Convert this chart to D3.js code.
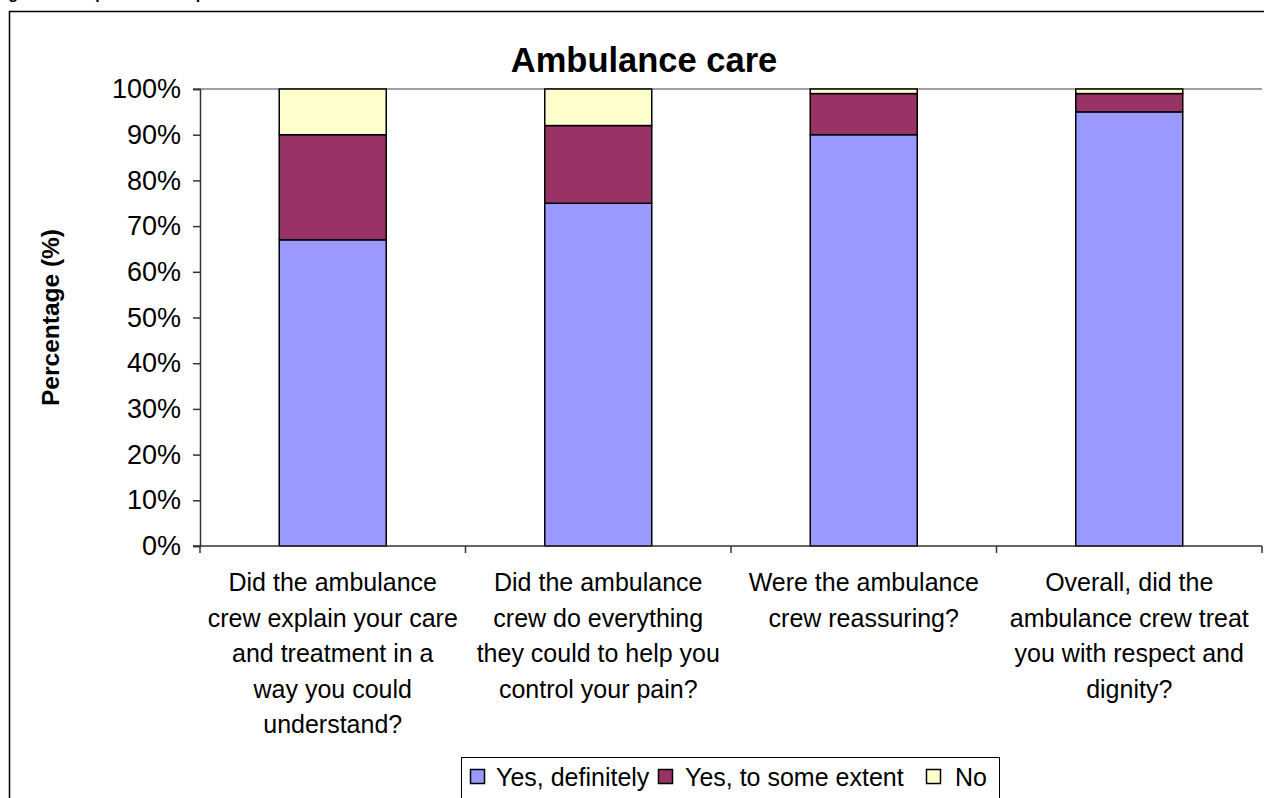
<!DOCTYPE html>
<html>
<head>
<meta charset="utf-8">
<script src="https://cdn.jsdelivr.net/npm/d3@7"></script>
<style>
  html, body { margin: 0; padding: 0; background: #fff; }
  svg { display: block; font-family: Arial, "Liberation Sans", sans-serif; }
</style>
</head>
<body>
<svg id="chart" width="1264" height="798"></svg>
<script>
// Survey questions (label lines as wrapped under each bar)
const categories = [
  ["Did the ambulance", "crew explain your care", "and treatment in a", "way you could", "understand?"],
  ["Did the ambulance", "crew do everything", "they could to help you", "control your pain?"],
  ["Were the ambulance", "crew reassuring?"],
  ["Overall, did the", "ambulance crew treat", "you with respect and", "dignity?"]
];
const seriesNames = ["Yes, definitely", "Yes, to some extent", "No"];
const yesDefinitely = [67, 75, 90, 95];
const yesSomeExtent = [23, 17, 9, 4];
const no = [10, 8, 1, 1];
const yTicks = [0, 10, 20, 30, 40, 50, 60, 70, 80, 90, 100];
const colors = ["#9999FF", "#993366", "#FFFFCC"];

const svg = d3.select("#chart");

// Caption line above the chart frame (only its descenders fall inside the page)
svg.append("text")
  .attr("x", -6).attr("y", -1.5)
  .attr("font-size", 16).attr("font-weight", "bold")
  .text("Figure 5: Responses from patients");

// Outer chart frame
svg.append("rect")
  .attr("x", 9.5).attr("y", 11.5)
  .attr("width", 1290).attr("height", 820)
  .attr("fill", "#fff").attr("stroke", "#000").attr("stroke-width", 1.5);

const plot = { left: 200, right: 1262, top: 89, bottom: 546 };

const rows = categories.map((c, i) => ({
  key: i,
  [seriesNames[0]]: yesDefinitely[i],
  [seriesNames[1]]: yesSomeExtent[i],
  [seriesNames[2]]: no[i]
}));
const stacked = d3.stack().keys(seriesNames)(rows);

const x = d3.scaleBand()
  .domain(categories.map((c, i) => i))
  .range([plot.left, plot.right])
  .paddingInner(0.597).paddingOuter(0.2985);
const xOuter = d3.scaleBand()
  .domain(categories.map((c, i) => i))
  .range([plot.left, plot.right]);
const y = d3.scaleLinear().domain([0, 100]).range([plot.bottom, plot.top]);

// Title
svg.append("text")
  .attr("x", 644).attr("y", 72)
  .attr("text-anchor", "middle")
  .attr("font-size", 34.5).attr("font-weight", "bold")
  .text("Ambulance care");

// Top boundary line at 100%
svg.append("line")
  .attr("x1", plot.left - 7).attr("x2", plot.right)
  .attr("y1", y(100)).attr("y2", y(100))
  .attr("stroke", "#808080").attr("stroke-width", 1.5);

// Stacked bars
svg.append("g").selectAll("g")
  .data(stacked)
  .join("g")
  .attr("fill", (d, i) => colors[i])
  .selectAll("rect")
  .data(d => d)
  .join("rect")
  .attr("x", d => x(d.data.key))
  .attr("y", d => y(d[1]))
  .attr("width", x.bandwidth())
  .attr("height", d => y(d[0]) - y(d[1]))
  .attr("stroke", "#000").attr("stroke-width", 1.5);

// Y axis
const yAxis = svg.append("g")
  .attr("transform", `translate(${plot.left},0)`)
  .call(d3.axisLeft(y).tickValues(yTicks).tickFormat(d => d + "%").tickSize(7).tickPadding(12));
yAxis.select(".domain").attr("stroke", "#333").attr("stroke-width", 1.5);
yAxis.selectAll(".tick line").attr("stroke", "#333").attr("stroke-width", 1.5);
yAxis.selectAll(".tick text")
  .attr("font-size", 27).attr("fill", "#000")
  .attr("font-family", "Arial, 'Liberation Sans', sans-serif");

// X axis line and category boundary ticks
const xg = svg.append("g");
xg.append("line")
  .attr("x1", plot.left - 7).attr("x2", plot.right)
  .attr("y1", plot.bottom).attr("y2", plot.bottom)
  .attr("stroke", "#333").attr("stroke-width", 1.5);
const bounds = categories.map((c, i) => xOuter(i)).concat([plot.right]);
xg.selectAll("line.tk")
  .data(bounds)
  .join("line")
  .attr("class", "tk")
  .attr("x1", d => d).attr("x2", d => d)
  .attr("y1", plot.bottom).attr("y2", plot.bottom + 7)
  .attr("stroke", "#333").attr("stroke-width", 1.5);

// Category labels
const lab = svg.append("g");
categories.forEach((lines, i) => {
  const cx = xOuter(i) + xOuter.bandwidth() / 2;
  const t = lab.append("text")
    .attr("text-anchor", "middle")
    .attr("font-size", 25);
  lines.forEach((ln, j) => {
    t.append("tspan").attr("x", cx).attr("y", 591 + j * 35.5).text(ln);
  });
});

// Y axis title
svg.append("text")
  .attr("transform", `translate(59,${(plot.top + plot.bottom) / 2}) rotate(-90)`)
  .attr("text-anchor", "middle")
  .attr("font-size", 24.5).attr("font-weight", "bold")
  .text("Percentage (%)");

// Legend
const legend = svg.append("g");
legend.append("rect")
  .attr("x", 461.5).attr("y", 757.5)
  .attr("width", 538).attr("height", 80)
  .attr("fill", "#fff").attr("stroke", "#000").attr("stroke-width", 1);
const swatchX = [470, 658, 926];
const labelX = [496, 685, 955];
seriesNames.forEach((name, i) => {
  legend.append("rect")
    .attr("x", swatchX[i] + 0.5).attr("y", 769.5)
    .attr("width", 14).attr("height", 14)
    .attr("fill", colors[i]).attr("stroke", "#000").attr("stroke-width", 1.5);
  legend.append("text")
    .attr("x", labelX[i]).attr("y", 786)
    .attr("font-size", 25)
    .text(name);
});
</script>
</body>
</html>
